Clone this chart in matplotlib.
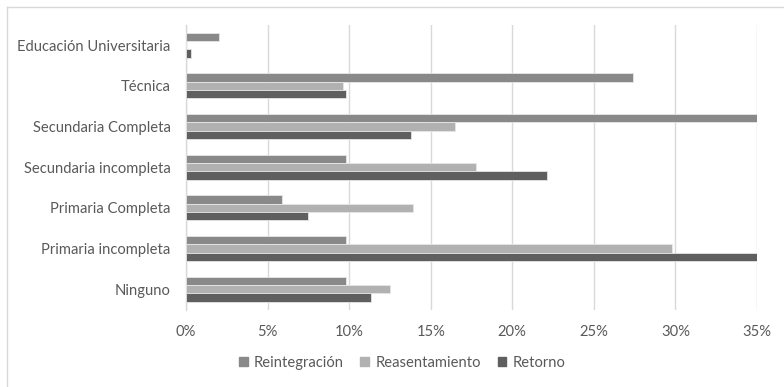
import matplotlib
matplotlib.use("Agg")
import matplotlib.pyplot as plt
from matplotlib.lines import Line2D
import numpy as np

plt.rcParams['font.family'] = ['Lato', 'DejaVu Sans']

categories = ["Educación Universitaria", "Técnica", "Secundaria Completa",
              "Secundaria incompleta", "Primaria Completa", "Primaria incompleta",
              "Ninguno"]
reintegracion = [2.0, 27.4, 35.0, 9.8, 5.9, 9.8, 9.8]
reasentamiento = [0.0, 9.6, 16.5, 17.8, 13.9, 29.8, 12.5]
retorno = [0.3, 9.8, 13.8, 22.1, 7.5, 35.0, 11.35]
series_names = ["Reintegración", "Reasentamiento", "Retorno"]
colors = ["#898989", "#b1b1b1", "#5f5f5f"]
xticks = [0, 5, 10, 15, 20, 25, 30, 35]

fig = plt.figure(figsize=(7.84, 3.87), dpi=100)
ax = fig.add_axes([186/784, 1-309.5/387, (757-186)/784, (309.5-25)/387])

n = len(categories)
y = np.arange(n)
h = 0.205
for i, (vals, c) in enumerate(zip([reintegracion, reasentamiento, retorno], colors)):
    ax.barh(y + (i - 1) * h, vals, height=h, color=c, edgecolor="#e6e6e6",
            linewidth=0.6, label=series_names[i], zorder=3)

ax.set_ylim(n - 0.5, -0.5)
ax.set_xlim(0, 35)
ax.set_yticks(y)
ax.set_yticklabels(categories)
ax.set_xticks(xticks)
ax.set_xticklabels([f"{t}%" for t in xticks])
ax.tick_params(axis='both', length=0, colors="#595959", labelsize=10.6)
ax.tick_params(axis='x', pad=11)
ax.tick_params(axis='y', pad=11)
ax.grid(axis='x', color="#d9d9d9", linewidth=1, zorder=0)
for s in ["top", "right", "bottom"]:
    ax.spines[s].set_visible(False)
ax.spines["left"].set_color("#d9d9d9")
ax.spines["left"].set_linewidth(1)

handles = [plt.Rectangle((0, 0), 1, 1, color=c) for c in colors]
fig.legend(handles, series_names, loc="center", bbox_to_anchor=(402/784, 1-363/387),
           ncol=3, frameon=False, fontsize=10.6, handlelength=0.6, handleheight=0.6,
           handletextpad=0.4, columnspacing=1.15, labelcolor="#595959")

# outer frame
fig.add_artist(Line2D([7/784, 1], [1-7/387, 1-7/387], color="#d9d9d9", lw=1))
fig.add_artist(Line2D([7/784, 7/784], [0, 1-7/387], color="#d9d9d9", lw=1))

fig.savefig("out.png", dpi=100, facecolor="white")
